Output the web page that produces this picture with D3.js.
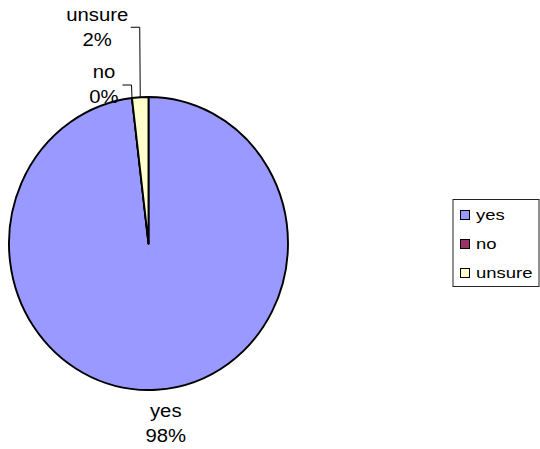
<!DOCTYPE html>
<html><head><meta charset="utf-8">
<script src="https://cdn.jsdelivr.net/npm/d3@7"></script>
<style>body{margin:0;background:#fff}svg{display:block}</style>
</head><body>
<script>
const categories = ["yes", "no", "unsure"];
const values = [52, 0, 1];
const percentLabels = ["98%", "0%", "2%"];
const colors = ["#9999FF", "#993366", "#FFFFCC"];

const W = 540, H = 449;
const svg = d3.select("body").append("svg").attr("width", W).attr("height", H);
const cx = 148.5, cy = 243.5, rx = 139.5, ry = 146.5;
const font = "'Liberation Sans', Arial, sans-serif";
const sx = 1.16;

const pie = d3.pie().sort(null).value(d => d).startAngle(0).endAngle(2 * Math.PI);
const arcs = pie(values);
const arc = d3.arc().innerRadius(0).outerRadius(rx);

const g = svg.append("g").attr("transform", `translate(${cx},${cy}) scale(1,${ry / rx})`);
g.selectAll("path").data(arcs).enter().append("path")
  .attr("d", arc)
  .attr("fill", (d, i) => colors[i])
  .attr("stroke", "#000")
  .attr("stroke-width", 1.9)
  .attr("vector-effect", "non-scaling-stroke")
  .attr("stroke-linejoin", "round");

function pt(angle) {
  return [cx + Math.sin(angle) * rx, cy - Math.cos(angle) * ry];
}

function drawLabel(i, x, y1) {
  [categories[i], percentLabels[i]].forEach((t, k) => {
    svg.append("text")
      .attr("transform", `translate(${x},${y1 + k * 25}) scale(${sx},1)`)
      .attr("text-anchor", "middle")
      .attr("font-family", font)
      .attr("font-size", 17.5)
      .attr("fill", "#000")
      .text(t);
  });
}

// yes label below the pie
{
  const a = arcs[0];
  const p = pt((a.startAngle + a.endAngle) / 2);
  drawLabel(0, p[0] + 9, p[1] + 27);
}
// unsure label with leader
{
  const a = arcs[2];
  const p = pt((a.startAngle + a.endAngle) / 2);
  const lx = p[0] - 43, ly = p[1] - 76;
  drawLabel(2, lx, ly);
  svg.append("path")
    .attr("d", `M${p[0] - 9.5},${ly + 6}H${p[0] - 0.5}L${p[0]},${p[1]}`)
    .attr("fill", "none").attr("stroke", "#000").attr("stroke-width", 1);
}
// no label with leader
{
  const a = arcs[1];
  const p = pt(a.startAngle);
  const lx = p[0] - 28, ly = p[1] - 20;
  drawLabel(1, lx, ly);
  svg.append("path")
    .attr("d", `M${p[0] - 9.5},${ly + 7}H${p[0] - 0.5}L${p[0]},${p[1]}`)
    .attr("fill", "none").attr("stroke", "#000").attr("stroke-width", 1);
}

// legend
const lg = svg.append("g");
lg.append("rect").attr("x", 453).attr("y", 199.5).attr("width", 86).attr("height", 87)
  .attr("fill", "#fff").attr("stroke", "#222").attr("stroke-width", 1);
const rowY = d3.scalePoint().domain(categories).range([220, 278]);
categories.forEach((c, i) => {
  const by = rowY(c);
  lg.append("rect").attr("x", 460.5).attr("y", by - 9.5).attr("width", 9).attr("height", 9)
    .attr("fill", colors[i]).attr("stroke", "#000").attr("stroke-width", 1);
  lg.append("text")
    .attr("transform", `translate(476,${by}) scale(${sx + 0.04},1)`)
    .attr("font-family", font).attr("font-size", 15.4).attr("fill", "#000")
    .text(c);
});
</script>
</body></html>
